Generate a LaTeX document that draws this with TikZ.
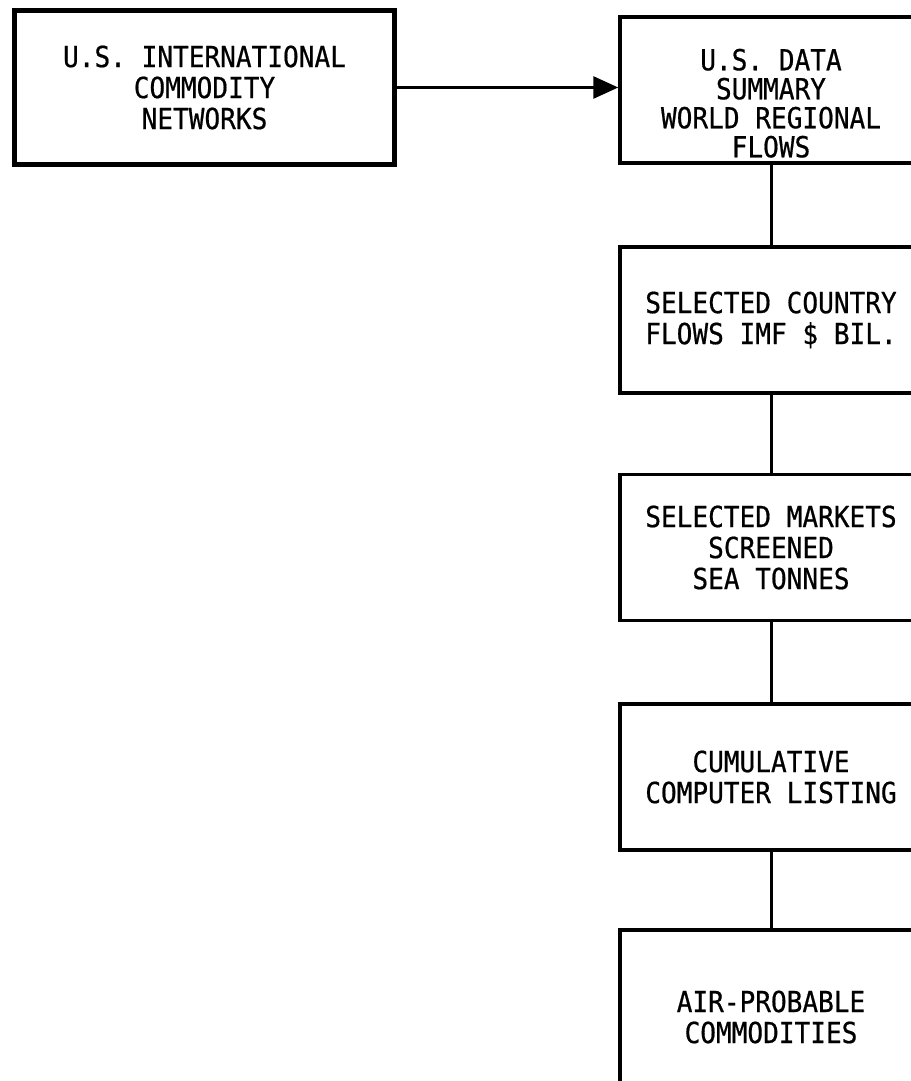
\documentclass[tikz,border=0pt]{standalone}
\usepackage{fontspec}
\newfontfamily\flowfont[FakeStretch=0.9,FakeBold=0.6]{DejaVu Sans Mono}
\usetikzlibrary{arrows.meta}

\begin{document}
\begin{tikzpicture}[x=1pt,y=-1pt,
  stage/.style={draw, line width=3.5pt, minimum width=302pt, minimum height=146pt,
    inner sep=0pt, align=center, font=\flowfont\fontsize{29}{31}\selectfont},
  link/.style={line width=3pt}]
\useasboundingbox (0,0) rectangle (910,1081);
\node[stage, line width=5pt, minimum width=380pt, minimum height=154pt] (intl) at (204.5,87.5) {U.S. INTERNATIONAL\\COMMODITY\\NETWORKS};
\node[stage] (usdata) at (771,90) {\rule{0pt}{48pt}U.S. DATA\\[-2pt]SUMMARY\\[-2pt]WORLD REGIONAL\\[-2pt]FLOWS};
\node[stage] (country) at (771,320) {SELECTED COUNTRY\\FLOWS IMF \$ BIL.};
\node[stage] (markets) at (771,547.5) {SELECTED MARKETS\\SCREENED\\SEA TONNES};
\node[stage] (listing) at (771,777) {CUMULATIVE\\COMPUTER LISTING};
\node[stage, minimum height=174pt] (airprob) at (771,1017) {AIR-PROBABLE\\COMMODITIES};
\draw[link, -{Triangle[length=25pt,width=22pt]}] (intl.east) -- (intl.east -| usdata.west);
\draw[link] (usdata.south) -- (country.north);
\draw[link] (country) -- (markets);
\draw[link] (markets) -- (listing);
\draw[link] (listing) -- (airprob);
\end{tikzpicture}
\end{document}
